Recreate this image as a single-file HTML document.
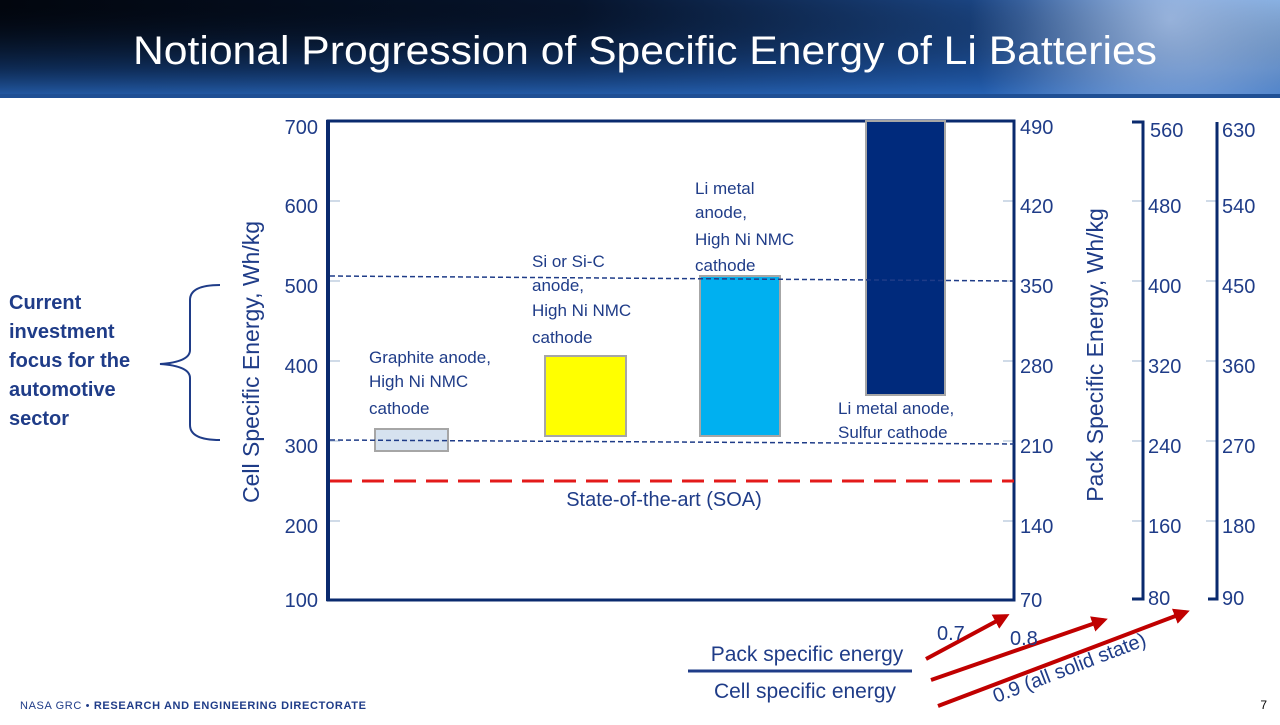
<!DOCTYPE html>
<html><head><meta charset="utf-8"><style>
body{margin:0;width:1280px;height:720px;overflow:hidden;background:#fff;font-family:"Liberation Sans",sans-serif}
</style></head><body>
<svg width="1280" height="720" viewBox="0 0 1280 720" xmlns="http://www.w3.org/2000/svg" font-family="Liberation Sans, sans-serif">
<defs>
<linearGradient id="bg" x1="0" y1="0" x2="1" y2="0">
<stop offset="0" stop-color="#02060e"/><stop offset="0.45" stop-color="#06142c"/><stop offset="0.8" stop-color="#1d4a8c"/><stop offset="1" stop-color="#6f9fd8"/></linearGradient>
<linearGradient id="bg2" x1="0" y1="0" x2="0" y2="1">
<stop offset="0" stop-color="#000" stop-opacity="0"/><stop offset="0.7" stop-color="#1a4f9a" stop-opacity="0.5"/><stop offset="1" stop-color="#2a6ac0" stop-opacity="0.9"/></linearGradient>
<radialGradient id="glow" cx="1170" cy="20" r="200" gradientUnits="userSpaceOnUse">
<stop offset="0" stop-color="#cfe0ff" stop-opacity="0.6"/><stop offset="1" stop-color="#cfe0ff" stop-opacity="0"/></radialGradient>
<marker id="ar" markerWidth="4" markerHeight="4" refX="3" refY="2" orient="auto" markerUnits="strokeWidth"><path d="M0,0 L4,2 L0,4 z" fill="#c00000"/></marker>
</defs>
<rect x="0" y="0" width="1280" height="98" fill="url(#bg)"/>
<rect x="0" y="0" width="1280" height="98" fill="url(#bg2)"/>
<rect x="0" y="0" width="1280" height="98" fill="url(#glow)"/>
<rect x="0" y="94" width="1280" height="4" fill="#1f4f94"/>
<text x="133" y="64" font-size="40" fill="#fff" textLength="1024" lengthAdjust="spacingAndGlyphs">Notional Progression of Specific Energy of Li Batteries</text>

<g fill="#1f3c88" font-size="20">
<text x="318" y="134" text-anchor="end">700</text>
<text x="318" y="213" text-anchor="end">600</text>
<text x="318" y="293" text-anchor="end">500</text>
<text x="318" y="373" text-anchor="end">400</text>
<text x="318" y="453" text-anchor="end">300</text>
<text x="318" y="533" text-anchor="end">200</text>
<text x="318" y="607" text-anchor="end">100</text>
<text x="1020" y="134">490</text><text x="1020" y="213">420</text><text x="1020" y="293">350</text><text x="1020" y="373">280</text><text x="1020" y="453">210</text><text x="1020" y="533">140</text><text x="1020" y="607">70</text>
<text x="1150" y="137">560</text><text x="1148" y="213">480</text><text x="1148" y="293">400</text><text x="1148" y="373">320</text><text x="1148" y="453">240</text><text x="1148" y="533">160</text><text x="1148" y="605">80</text>
<text x="1222" y="137">630</text><text x="1222" y="213">540</text><text x="1222" y="293">450</text><text x="1222" y="373">360</text><text x="1222" y="453">270</text><text x="1222" y="533">180</text><text x="1222" y="605">90</text>
</g>
<g stroke="#d0dbe8" stroke-width="2">
<line x1="328" y1="201" x2="340" y2="201"/><line x1="328" y1="281" x2="340" y2="281"/><line x1="328" y1="361" x2="340" y2="361"/><line x1="328" y1="441" x2="340" y2="441"/><line x1="328" y1="521" x2="340" y2="521"/>
<line x1="1003" y1="201" x2="1014" y2="201"/><line x1="1003" y1="281" x2="1014" y2="281"/><line x1="1003" y1="361" x2="1014" y2="361"/><line x1="1003" y1="441" x2="1014" y2="441"/><line x1="1003" y1="521" x2="1014" y2="521"/>
<line x1="1132" y1="201" x2="1143" y2="201"/><line x1="1132" y1="281" x2="1143" y2="281"/><line x1="1132" y1="361" x2="1143" y2="361"/><line x1="1132" y1="441" x2="1143" y2="441"/><line x1="1132" y1="521" x2="1143" y2="521"/>
<line x1="1206" y1="201" x2="1217" y2="201"/><line x1="1206" y1="281" x2="1217" y2="281"/><line x1="1206" y1="361" x2="1217" y2="361"/><line x1="1206" y1="441" x2="1217" y2="441"/><line x1="1206" y1="521" x2="1217" y2="521"/>
</g>
<g fill="none" stroke="#0a2a6e" stroke-width="3">
<rect x="328" y="121" width="686" height="479"/>
<line x1="328" y1="120" x2="328" y2="601" stroke-width="4"/>
<path d="M1132,122 H1143 V599 H1132"/>
<path d="M1217,122 V599 H1208"/>
</g>
<rect x="375" y="429" width="73" height="22" fill="#d6e2ef" stroke="#a6a6a6" stroke-width="2"/>
<rect x="545" y="356" width="81" height="80" fill="#ffff00" stroke="#a6a6a6" stroke-width="2"/>
<rect x="700" y="276" width="80" height="160" fill="#00b0f0" stroke="#a6a6a6" stroke-width="2"/>
<rect x="866" y="121" width="79" height="274" fill="#002a7c" stroke="#a6a6a6" stroke-width="2"/>
<g stroke="#1f3c88" stroke-width="1.5" stroke-dasharray="5,3">
<line x1="330" y1="276" x2="1014" y2="281"/>
<line x1="330" y1="440" x2="1014" y2="444"/>
</g>
<line x1="330" y1="481" x2="1014" y2="481" stroke="#e31a1a" stroke-width="3" stroke-dasharray="22,10"/>
<g fill="#1f3c88" font-size="17">
<text x="369" y="363">Graphite anode,</text><text x="369" y="387">High Ni NMC</text><text x="369" y="414">cathode</text>
<text x="532" y="267">Si or Si-C</text><text x="532" y="291">anode,</text><text x="532" y="316">High Ni NMC</text><text x="532" y="343">cathode</text>
<text x="695" y="194">Li metal</text><text x="695" y="218">anode,</text><text x="695" y="245">High Ni NMC</text><text x="695" y="271">cathode</text>
<text x="838" y="414">Li metal anode,</text><text x="838" y="438">Sulfur cathode</text>
</g>
<text x="664" y="506" fill="#1f3c88" font-size="20" text-anchor="middle">State-of-the-art (SOA)</text>
<text transform="translate(259,362) rotate(-90)" fill="#1f3c88" font-size="23" text-anchor="middle">Cell Specific Energy, Wh/kg</text>
<text transform="translate(1103,355) rotate(-90)" fill="#1f3c88" font-size="23" text-anchor="middle">Pack Specific Energy, Wh/kg</text>
<g fill="#1f3c88" font-size="20" font-weight="bold">
<text x="9" y="309">Current</text><text x="9" y="338">investment</text><text x="9" y="367">focus for the</text><text x="9" y="396">automotive</text><text x="9" y="425">sector</text>
</g>
<path d="M220,285 Q190,285 190,300 V350 Q190,362 160,364 Q190,366 190,378 V425 Q190,440 220,440" fill="none" stroke="#1f3c88" stroke-width="2"/>
<text x="807" y="661" fill="#1f3c88" font-size="21" text-anchor="middle">Pack specific energy</text>
<line x1="688" y1="671" x2="912" y2="671" stroke="#1f3c88" stroke-width="3"/>
<text x="805" y="698" fill="#1f3c88" font-size="21" text-anchor="middle">Cell specific energy</text>
<g stroke="#c00000" stroke-width="4" marker-end="url(#ar)">
<line x1="926" y1="659" x2="1006" y2="616"/>
<line x1="931" y1="680" x2="1104" y2="620"/>
<line x1="938" y1="706" x2="1186" y2="612"/>
</g>
<g fill="#1f3c88" font-size="20">
<text x="937" y="640">0.7</text>
<text x="1010" y="645">0.8</text>
<text transform="translate(996,703) rotate(-21)">0.9 (all solid state)</text>
</g>
<text x="20" y="709" font-size="11" fill="#1f3c88" textLength="346" lengthAdjust="spacing">NASA GRC • <tspan font-weight="bold">RESEARCH AND ENGINEERING DIRECTORATE</tspan></text>
<text x="1267" y="709" font-size="12" fill="#000" text-anchor="end">7</text>
</svg>
</body></html>
